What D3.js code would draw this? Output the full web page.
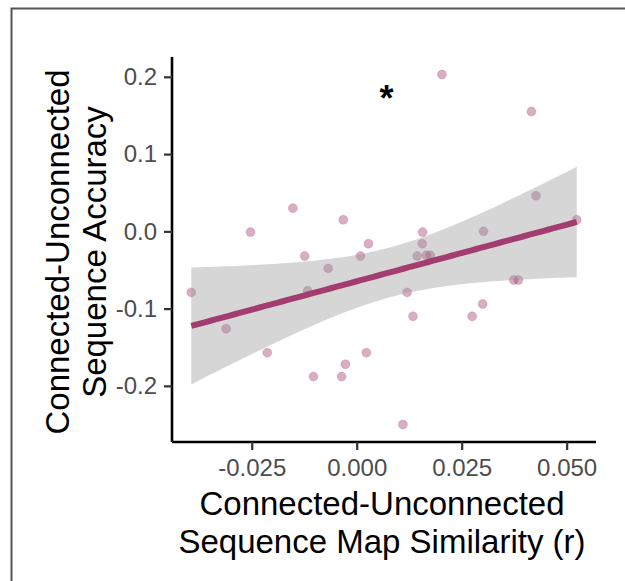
<!DOCTYPE html>
<html>
<head>
<meta charset="utf-8">
<script src="https://cdn.jsdelivr.net/npm/d3@7"></script>
<style>
  body { margin: 0; background: #fff; }
  svg { display: block; font-family: "Liberation Sans", Arial, Helvetica, sans-serif; }
</style>
</head>
<body>
<svg id="chart" width="625" height="581"></svg>
<script>
// map similarity difference (x) and accuracy difference (y), one per participant
const simVals = [-0.0394, -0.0311, -0.0253, -0.0213, -0.0152, -0.0124, -0.0117, -0.0103,
    -0.0068, -0.0036, -0.0032, -0.0027, 0.0009, 0.0023, 0.0028, 0.0110,
    0.0120, 0.0134, 0.0144, 0.0157, 0.0156, 0.0166, 0.0175, 0.0203,
    0.0275, 0.0300, 0.0302, 0.0374, 0.0385, 0.0416, 0.0427, 0.0524];
const accVals = [-0.079, -0.126, -0.001, -0.157, 0.030, -0.032, -0.077, -0.188,
    -0.048, -0.188, 0.015, -0.172, -0.032, -0.157, -0.016, -0.250,
    -0.079, -0.110, -0.032, -0.001, -0.016, -0.031, -0.031, 0.203,
    -0.110, -0.094, 0.000, -0.063, -0.063, 0.155, 0.046, 0.015];

const xTicks = [-0.025, 0, 0.025, 0.05];
const yTicks = [-0.2, -0.1, 0.0, 0.1, 0.2];
const xTitle = ["Connected-Unconnected", "Sequence Map Similarity (r)"];
const yTitle = ["Connected-Unconnected", "Sequence Accuracy"];
const sigLabel = "*";
const sigPos = [0.0071, 0.176];

const mainColor = "#a33d70";

let svg = d3.select("#chart");

// outer frame (only top and left edges are in view)
svg.append("path")
    .attr("d", "M11.5,581 L11.5,8.5 L625,8.5")
    .attr("fill", "none")
    .attr("stroke", "#555")
    .attr("stroke-width", 2);

function expand(ext, k) {
    let d = (ext[1] - ext[0]) * k;
    return [ext[0] - d, ext[1] + d];
}

// ggplot-style labels use a plain hyphen for negatives
function hyphenFormat(spec) {
    let f = d3.format(spec);
    return v => f(v).replace("\u2212", "-");
}

let x = d3.scaleLinear()
    .domain(expand(d3.extent(simVals), 0.05))
    .range([172, 596]);
let y = d3.scaleLinear()
    .domain(expand(d3.extent(accVals), 0.05))
    .range([442, 57]);

// linear fit + 95% confidence band
let n = simVals.length;
let xMean = d3.mean(simVals), yMean = d3.mean(accVals);
let sxx = d3.sum(simVals, v => (v - xMean) ** 2);
let sxy = d3.sum(simVals.map((v, i) => (v - xMean) * (accVals[i] - yMean)));
let slope = sxy / sxx;
let icpt = yMean - slope * xMean;
let rss = d3.sum(simVals.map((v, i) => (accVals[i] - (icpt + slope * v)) ** 2));
let sRes = Math.sqrt(rss / (n - 2));
const tCrit = 2.042; // t(0.975, df = 30)

let xr = d3.extent(simVals);
let band = d3.range(0, 81).map(i => {
    let xv = xr[0] + (xr[1] - xr[0]) * i / 80;
    let fit = icpt + slope * xv;
    let se = sRes * Math.sqrt(1 / n + (xv - xMean) ** 2 / sxx);
    return { x: xv, fit: fit, lo: fit - tCrit * se, hi: fit + tCrit * se };
});

let plot = svg.append("g");

// points
plot.selectAll(".pt")
    .data(simVals.map((v, i) => ({ x: v, y: accVals[i] })))
    .enter()
    .append("circle")
    .attr("class", "pt")
    .attr("cx", d => x(d.x))
    .attr("cy", d => y(d.y))
    .attr("r", 4.5)
    .attr("fill", mainColor)
    .attr("fill-opacity", 0.42)
    .attr("stroke", mainColor)
    .attr("stroke-opacity", 0.2)
    .attr("stroke-width", 1);

plot.append("path")
    .datum(band)
    .attr("d", d3.area().x(d => x(d.x)).y0(d => y(d.lo)).y1(d => y(d.hi)))
    .attr("fill", "#999")
    .attr("fill-opacity", 0.4);

plot.append("path")
    .datum(band)
    .attr("d", d3.line().x(d => x(d.x)).y(d => y(d.fit)))
    .attr("fill", "none")
    .attr("stroke", mainColor)
    .attr("stroke-width", 6);

plot.append("text")
    .attr("x", x(sigPos[0]))
    .attr("y", y(sigPos[1]) + 16)
    .attr("text-anchor", "middle")
    .style("font-size", "36px")
    .style("font-weight", "bold")
    .attr("fill", "#000")
    .text(sigLabel);

// axes
let xAxis = svg.append("g")
    .attr("transform", "translate(0,442)")
    .call(d3.axisBottom(x).tickValues(xTicks).tickSize(8).tickPadding(7)
        .tickFormat(hyphenFormat(".3f")));
let yAxis = svg.append("g")
    .attr("transform", "translate(172,0)")
    .call(d3.axisLeft(y).tickValues(yTicks).tickSize(8).tickPadding(7)
        .tickFormat(hyphenFormat(".1f")));

[xAxis, yAxis].forEach(ax => {
    ax.select(".domain").attr("stroke", "#000").attr("stroke-width", 2.6);
    ax.selectAll(".tick line").attr("stroke", "#333").attr("stroke-width", 2.2);
    ax.selectAll(".tick text")
        .attr("fill", "#4d4d4d")
        .style("font-size", "24px")
        .style("font-family", "\"Liberation Sans\", Arial, sans-serif");
});
xAxis.select(".domain").attr("d", "M172,0H596");
yAxis.select(".domain").attr("d", "M0,57V442");
xAxis.selectAll(".tick text").attr("dy", "0.8em");

// axis titles
svg.append("text")
    .attr("text-anchor", "middle")
    .style("font-size", "33px")
    .attr("fill", "#000")
    .selectAll("tspan")
    .data(xTitle)
    .enter()
    .append("tspan")
    .attr("x", 382)
    .attr("y", (d, i) => 515 + i * 38)
    .text(d => d);

svg.append("text")
    .attr("text-anchor", "middle")
    .attr("transform", "rotate(-90)")
    .style("font-size", "33px")
    .attr("fill", "#000")
    .selectAll("tspan")
    .data(yTitle)
    .enter()
    .append("tspan")
    .attr("x", -252)
    .attr("y", (d, i) => 69 + i * 37)
    .text(d => d);
</script>
</body>
</html>
